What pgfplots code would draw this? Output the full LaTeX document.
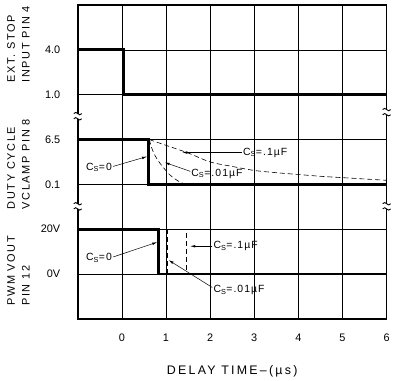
\documentclass[border=0pt]{standalone}
\usepackage{fontspec}
\setmainfont{Liberation Sans}
\newfontfamily\wide{Liberation Sans}[LetterSpace=18]
\newfontfamily\ywide{Liberation Sans}[LetterSpace=15]
\newfontfamily\medw{Liberation Sans}[LetterSpace=10]
\usepackage{pgfplots}
\pgfplotsset{compat=1.18}
\usetikzlibrary{arrows.meta}
\newcommand\brk[1]{%
  \begin{scope}[shift={(#1)}]
    \fill[white] (-4.5bp,-2.6bp) rectangle (4.5bp,2.6bp);
    \draw[line width=0.9bp] (-4bp,2.6bp) sin (-2bp,3.8bp) cos (0bp,2.6bp) sin (2bp,1.4bp) cos (4bp,2.6bp);
    \draw[line width=0.9bp] (-4bp,-2.6bp) sin (-2bp,-1.4bp) cos (0bp,-2.6bp) sin (2bp,-3.8bp) cos (4bp,-2.6bp);
  \end{scope}}
\begin{document}
\begin{tikzpicture}[
  ann/.style={font=\medw\fontsize{10.5}{12}\selectfont, inner sep=1pt},
  arr/.style={-{Latex[length=5bp,width=2.6bp]}, line width=0.5bp},
  ylab/.style={rotate=90, anchor=north west, align=left, inner sep=0pt, font=\ywide\fontsize{11}{15}\selectfont}]
\begin{axis}[
  scale only axis, width=310bp, height=315bp,
  xmin=-1, xmax=6, ymin=0, ymax=7,
  xtick={0,...,6}, ytick={1,...,6},
  xticklabels={0,1,2,3,4,5,6},
  yticklabels={0V,20V,0.1,6.5,1.0,4.0},
  major tick length=0pt,
  grid=major, major grid style={black, line width=0.6bp},
  axis line style={line width=1.6bp},
  tick label style={font=\fontsize{11}{13}\selectfont},
  xticklabel style={yshift=-12bp},
  yticklabel style={xshift=-14bp},
  xlabel={DELAY TIME–(µs)},
  xlabel style={font=\wide\fontsize{12.5}{14}\selectfont, at={(axis description cs:0.5,0)}, anchor=center, yshift=-53bp},
  clip=false,
]
% main signals
\addplot[black, line width=2.8bp] coordinates {(-1,6) (0.03,6) (0.03,5) (6,5)};
\addplot[black, line width=2.8bp] coordinates {(-1,4) (0.6,4) (0.6,3) (6,3)};
\addplot[black, line width=2.8bp] coordinates {(-1,2) (0.83,2) (0.83,1) (6,1)};
% dashed duty cycle curves
\addplot[black, dash pattern=on 5bp off 3bp, line width=0.6bp, smooth] coordinates {
 (0.62,4.0) (1.0,3.87) (1.5,3.70) (2.0,3.50) (2.5,3.40) (3.0,3.31) (3.5,3.26) (4.0,3.22) (4.5,3.18) (5.0,3.15) (5.5,3.12) (6.0,3.09)};
\addplot[black, dash pattern=on 5bp off 3bp, line width=0.6bp, smooth] coordinates {
 (0.62,4.0) (0.7,3.75) (0.8,3.56) (0.92,3.40) (1.1,3.20) (1.3,3.06) (1.45,3.0)};
% dashed PWM
\addplot[black, dash pattern=on 5bp off 3bp, line width=0.6bp] coordinates {(0.83,2) (1.46,2) (1.46,1)};
\addplot[black, dash pattern=on 5bp off 3bp, line width=0.6bp] coordinates {(1.03,2) (1.03,1)};
% annotations duty
\node[ann, anchor=west] at (axis cs:2.72,3.71) {C\textsubscript{S}=.1µF};
\draw[arr] (axis cs:2.72,3.71) -- (axis cs:1.37,3.71);
\node[ann, anchor=west] at (axis cs:1.55,3.24) {C\textsubscript{S}=.01µF};
\draw[arr] (axis cs:1.55,3.29) -- (axis cs:0.97,3.49);
\node[ann, anchor=east] at (axis cs:-0.2,3.38) {C\textsubscript{S}=0};
\draw[arr] (axis cs:-0.2,3.40) -- (axis cs:0.57,3.62);
% annotations PWM
\node[ann, anchor=west] at (axis cs:2.05,1.62) {C\textsubscript{S}=.1µF};
\draw[arr] (axis cs:2.05,1.62) -- (axis cs:1.55,1.62);
\node[ann, anchor=west] at (axis cs:2.05,0.64) {C\textsubscript{S}=.01µF};
\draw[arr] (axis cs:2.05,0.70) -- (axis cs:1.06,1.31);
\node[ann, anchor=east] at (axis cs:-0.2,1.36) {C\textsubscript{S}=0};
\draw[arr] (axis cs:-0.2,1.38) -- (axis cs:0.80,1.71);
% break positions
\coordinate (b1) at (axis cs:-1,4.52);
\coordinate (b2) at (axis cs:-1,2.51);
\coordinate (b3) at (axis cs:6,4.61);
\coordinate (b4) at (axis cs:6,2.51);
% y labels
\node[ylab] at ([xshift=-71bp]axis cs:-1,5.27) {EXT. STOP\\INPUT PIN 4};
\node[ylab] at ([xshift=-71bp]axis cs:-1,2.44) {DUTY CYCLE\\VCLAMP PIN 8};
\node[ylab] at ([xshift=-71bp]axis cs:-1,0.29) {PWM VOUT\\PIN 12};
% bounding box
\path ([xshift=-78bp,yshift=-60bp]axis cs:-1,0) coordinate (bl);
\path ([xshift=5bp,yshift=5bp]axis cs:6,7) coordinate (tr);
\end{axis}
\brk{b1}\brk{b2}\brk{b3}\brk{b4}
\path (bl) (tr);
\end{tikzpicture}
\end{document}
